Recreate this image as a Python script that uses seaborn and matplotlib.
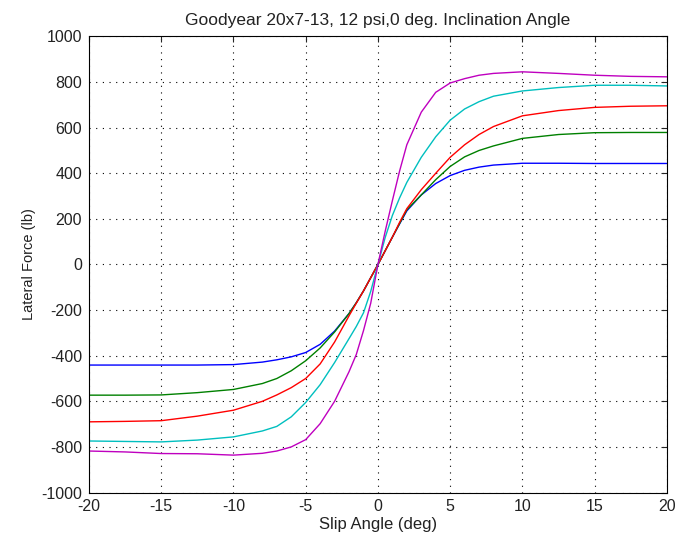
import numpy as np
import pandas as pd
import matplotlib
matplotlib.use("Agg")
import matplotlib.pyplot as plt
import seaborn as sns

slip = [-20, -17.5, -15, -12.5, -10, -8, -7, -6, -5, -4, -3, -2, -1.5, -1, -0.5,
        0, 0.5, 1, 1.5, 2, 3, 4, 5, 6, 7, 8, 10, 12.5, 15, 17.5, 20]

blue = [-441, -441, -441, -441, -439, -428, -418, -405, -386, -350, -292, -215, -168, -116, -58,
        0, 60, 120, 178, 235, 305, 355, 390, 413, 427, 436, 444, 444, 443, 443, 443]
green = [-573, -573, -572, -562, -548, -522, -500, -466, -422, -366, -296, -215, -168, -116, -58,
         0, 60, 120, 180, 240, 305, 372, 430, 472, 500, 520, 553, 570, 578, 579, 579]
red = [-690, -688, -685, -665, -639, -600, -572, -540, -500, -436, -340, -225, -170, -116, -58,
       0, 60, 120, 185, 245, 328, 400, 470, 525, 570, 605, 652, 675, 689, 694, 696]
cyan = [-774, -776, -778, -770, -756, -730, -710, -668, -605, -527, -430, -325, -272, -212, -118,
        0, 118, 215, 292, 360, 470, 560, 633, 682, 714, 738, 761, 776, 786, 786, 783]
magenta = [-818, -822, -829, -830, -836, -828, -818, -800, -768, -698, -600, -470, -395, -290, -170,
           0, 145, 280, 410, 525, 668, 755, 796, 815, 830, 838, 845, 838, 830, 825, 823]

series_names = ["blue", "green", "red", "cyan", "magenta"]
series_vals = [blue, green, red, cyan, magenta]
colors = {"blue": "#0000ff", "green": "#008000", "red": "#ff0000",
          "cyan": "#00bfbf", "magenta": "#bf00bf"}

xticks = [-20, -15, -10, -5, 0, 5, 10, 15, 20]
yticks = list(range(-1000, 1001, 200))

df = pd.concat([pd.DataFrame({"slip": slip, "force": v, "series": n})
                for n, v in zip(series_names, series_vals)], ignore_index=True)

sns.set_style("white")
plt.rcParams["font.family"] = ["Liberation Sans", "DejaVu Sans"]

fig = plt.figure(figsize=(6.75, 5.41), dpi=100)
ax = fig.add_axes([0.1319, 0.0896, 0.856, 0.843])

sns.lineplot(data=df, x="slip", y="force", hue="series", palette=colors,
             hue_order=series_names, linewidth=1.0, ax=ax, legend=False,
             estimator=None, sort=False)

ax.set_xlim(-20, 20)
ax.set_ylim(-1000, 1000)
ax.set_xticks(xticks)
ax.set_yticks(yticks)
ax.set_xticklabels([str(t) for t in xticks], fontsize=11.5, color="#222222")
ax.set_yticklabels([str(t) for t in yticks], fontsize=11.5, color="#222222")
ax.grid(True, color="black", linestyle=(0, (1, 5)), linewidth=0.8)
ax.tick_params(direction="in", top=True, right=True, length=4, width=0.8, pad=5)
for s in ax.spines.values():
    s.set_color("black")
    s.set_linewidth(0.8)
ax.set_xlabel("Slip Angle (deg)", fontsize=12, labelpad=2, color="#222222")
ax.set_ylabel("Lateral Force (lb)", fontsize=10.5, labelpad=4, color="#222222")
ax.set_title("Goodyear 20x7-13, 12 psi,0 deg. Inclination Angle", fontsize=12.5,
             pad=8, color="#222222")

fig.savefig("out.png", dpi=100)
